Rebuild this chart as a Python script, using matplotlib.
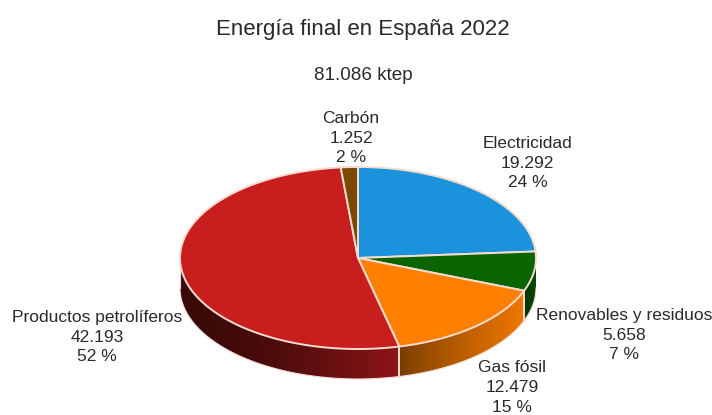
import numpy as np
import matplotlib
matplotlib.use('Agg')
import matplotlib.pyplot as plt
from matplotlib.patches import Polygon

plt.rcParams['font.family'] = ['Liberation Sans', 'DejaVu Sans']

# Energia final por fuente (ktep), en sentido horario desde arriba
fuentes = ['Electricidad', 'Renovables y residuos', 'Gas fósil', 'Productos petrolíferos', 'Carbón']
valores = [19292, 5658, 12479, 42193, 1252]
etiquetas_valor = ['19.292', '5.658', '12.479', '42.193', '1.252']
etiquetas_pct = ['24 %', '7 %', '15 %', '52 %', '2 %']
colores = ['#1b92dc', '#0a6400', '#ff8000', '#c81e1e', '#7a4a00']
# sombra de la pared lateral (izquierda, derecha, curva)
sombras = [(0.5, 0.9, 1.0), (0.5, 0.75, 1.0), (0.46, 0.93, 0.8), (0.29, 0.72, 1.7), (0.5, 0.9, 1.0)]
titulo = 'Energía final en España 2022'
subtitulo = '81.086 ktep'

cx, cy = 358, 258
rx, ry = 178, 91
grosor = 30
borde = '#f6dcd0'

fig = plt.figure(figsize=(7.12, 4.15), dpi=100)
ax = fig.add_axes([0, 0, 1, 1])


def punto(ang):
    return cx + rx * np.cos(ang), cy - ry * np.sin(ang)


# angulos de cada sector
fracciones = np.array(valores) / sum(valores)
fin = np.pi / 2 - np.cumsum(fracciones) * 2 * np.pi
ini = np.concatenate([[np.pi / 2], fin[:-1]])

# pared lateral: degradado horizontal recortado a la parte frontal de cada sector
for a0, a1, color, (s0, s1, curva) in zip(ini, fin, colores, sombras):
    angs = np.linspace(a0, a1, 400)
    angs = angs[np.sin(angs) <= 0]
    if len(angs) < 2:
        continue
    xs, ys = punto(angs)
    x0, x1 = xs.min(), xs.max()
    t = np.linspace(0, 1, 256) ** curva
    grad = (s0 + (s1 - s0) * t)[None, :, None] * np.array(matplotlib.colors.to_rgb(color))
    im = ax.imshow(grad, extent=[x0, x1, cy + ry + grosor + 2, cy - 2], aspect='auto', zorder=2)
    im.set_clip_path(Polygon(np.c_[np.r_[xs, xs[::-1]], np.r_[ys, ys[::-1] + grosor]],
                             transform=ax.transData))

# separacion vertical entre sectores en la pared
for a1 in fin:
    if np.sin(a1) < 0:
        x, y = punto(a1)
        ax.plot([x, x], [y, y + grosor], color=borde, lw=1.4, zorder=3)

# contorno inferior de la pared
angs = np.linspace(np.pi, 2 * np.pi, 200)
xs, ys = punto(angs)
ax.plot(xs, ys + grosor, color='#f3dcd8', lw=0.8, zorder=3)
ax.plot([cx - rx, cx - rx], [cy, cy + grosor], color='#f3dcd8', lw=0.8, zorder=3)

# cara superior
for a0, a1, color in zip(ini, fin, colores):
    angs = np.linspace(a0, a1, 200)
    xs, ys = punto(angs)
    ax.fill(np.r_[cx, xs], np.r_[cy, ys], facecolor=color, edgecolor=borde,
            lw=1.4, joinstyle='round', zorder=4)

ax.set_xlim(0, 712)
ax.set_ylim(415, 0)
ax.axis('off')

# rotulos
texto = '#2a2a2a'
ax.text(363, 29, titulo, ha='center', va='center', fontsize=16, color=texto)
ax.text(363, 75, subtitulo, ha='center', va='center', fontsize=13.6, color=texto)

pos_rotulos = [(527.5, 163), (624, 335), (512, 387.5), (97, 337), (351, 138)]
for nombre, val, pct, (x, y) in zip(fuentes, etiquetas_valor, etiquetas_pct, pos_rotulos):
    ax.text(x, y, f'{nombre}\n{val}\n{pct}', ha='center', va='center', fontsize=12.5,
            linespacing=1.39, color=texto, zorder=5)

fig.savefig('out.png', dpi=100)
